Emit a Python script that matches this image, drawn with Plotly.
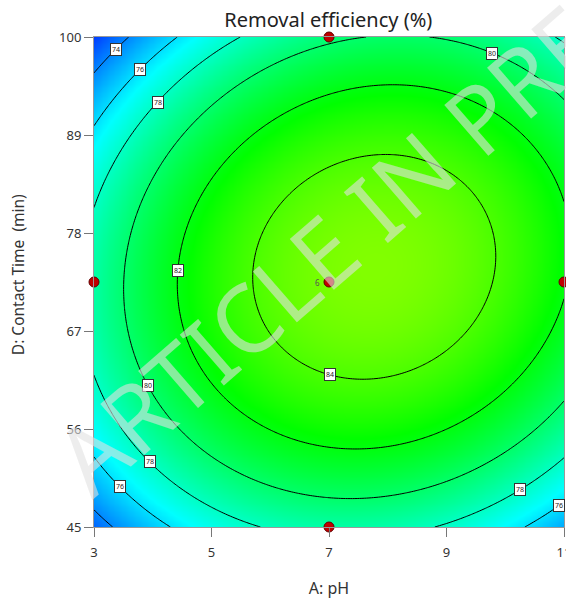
import numpy as np
import plotly.graph_objects as go

# ---- data ----
# quadratic response-surface model:
# R = M - a*(pH-x0)^2 - c*(t-y0)^2 + b*(pH-x0)*(t-y0)
model_max = 85.23
model_x0 = 7.77
model_y0 = 74.2
coef_a = 0.29
coef_c = 0.0078
coef_b = 0.009

ph_range = [3, 11]
time_range = [45, 100]
x_ticks = [3, 5, 7, 9, 11]
y_ticks = [45, 56, 67, 78, 89, 100]
levels = [74, 76, 78, 80, 82, 84]

design_ph = [7, 3, 7, 11, 7]
design_time = [100, 72.5, 72.5, 72.5, 45]
center_reps = "6"

# contour labels: (level, fixed value, fixed axis, root side)
label_specs = [
    (74, 98.6, "y", "low"), (76, 96.4, "y", "low"), (78, 92.7, "y", "low"),
    (80, 98.2, "y", "high"), (82, 73.8, "y", "low"), (84, 7.02, "x", "low"),
    (80, 60.9, "y", "low"), (78, 52.3, "y", "low"), (76, 49.5, "y", "low"),
    (74, 47.1, "y", "low"), (78, 49.2, "y", "high"), (76, 47.4, "y", "high"),
]


def model(x, y):
    dx = x - model_x0
    dy = y - model_y0
    return model_max - coef_a * dx ** 2 - coef_c * dy ** 2 + coef_b * dx * dy


def solve_label(level, fixed, axis, side):
    if axis == "y":
        dy = fixed - model_y0
        A = coef_a
        B = -coef_b * dy
        C = coef_c * dy ** 2 + level - model_max
        disc = np.sqrt(B * B - 4 * A * C)
        r = (-B - disc) / (2 * A) if side == "low" else (-B + disc) / (2 * A)
        return model_x0 + r, fixed
    dx = fixed - model_x0
    A = coef_c
    B = -coef_b * dx
    C = coef_a * dx ** 2 + level - model_max
    disc = np.sqrt(B * B - 4 * A * C)
    r = (-B - disc) / (2 * A) if side == "low" else (-B + disc) / (2 * A)
    return fixed, model_y0 + r


xs = np.linspace(ph_range[0], ph_range[1], 201)
ys = np.linspace(time_range[0], time_range[1], 201)
X, Y = np.meshgrid(xs, ys)
Z = model(X, Y)

zmin, zmax = 71.0, 93.7
colorscale = [[0.0, "rgb(0,0,255)"], [0.25, "rgb(0,255,255)"],
              [0.5, "rgb(0,255,0)"], [0.75, "rgb(255,255,0)"],
              [1.0, "rgb(255,0,0)"]]

fig = go.Figure()
fig.add_trace(go.Heatmap(
    x=xs, y=ys, z=Z, zmin=zmin, zmax=zmax, colorscale=colorscale,
    showscale=False, zsmooth="best", hoverinfo="skip"))
fig.add_trace(go.Contour(
    x=xs, y=ys, z=Z, showscale=False,
    contours=dict(coloring="none", start=levels[0], end=levels[-1],
                  size=levels[1] - levels[0], showlabels=False),
    line=dict(color="black", width=1), hoverinfo="skip"))

fig.add_trace(go.Scatter(
    x=design_ph, y=design_time, mode="markers", cliponaxis=False,
    marker=dict(size=10, color="#c00000", line=dict(color="#600000", width=1)),
    hoverinfo="skip"))

annotations = []
for lvl, fixed, axis, side in label_specs:
    lx, ly = solve_label(lvl, fixed, axis, side)
    annotations.append(dict(
        x=lx, y=ly, xref="x", yref="y", text=str(lvl), showarrow=False,
        font=dict(size=7, color="#222", family="Noto Sans"),
        bgcolor="white", bordercolor="#333", borderwidth=1, borderpad=1))

annotations.append(dict(
    x=design_ph[2], y=design_time[2], xref="x", yref="y", text=center_reps,
    showarrow=False, xshift=-12, font=dict(size=8, color="#555", family="Noto Sans")))

annotations.append(dict(
    x=0.577, y=0.637, xref="paper", yref="paper", text="ARTICLE IN PRESS",
    showarrow=False, textangle=-41,
    font=dict(size=94, color="rgba(225,225,225,0.6)", family="Noto Sans")))

annotations.append(dict(
    x=-0.1617, y=0.514, xref="paper", yref="paper",
    text="D: Contact Time\u00a0 (min)", showarrow=False, textangle=-90,
    xanchor="center", yanchor="middle",
    font=dict(size=15.5, color="#333", family="Noto Sans")))

fig.update_layout(
    width=566, height=599,
    margin=dict(l=94, r=2, t=37, b=72),
    paper_bgcolor="white", plot_bgcolor="white",
    showlegend=False,
    title=dict(text="Removal efficiency (%)", x=0.58, xanchor="center",
               y=0.966, yanchor="middle",
               font=dict(size=20, color="#222", family="Noto Sans")),
    font=dict(family="Noto Sans", color="#333"),
    annotations=annotations,
)
fig.update_xaxes(
    range=ph_range, tickvals=x_ticks, ticktext=[str(v) for v in x_ticks],
    ticks="outside", ticklen=9, tickcolor="#777", tickfont=dict(size=13, color="#333"),
    ticklabeloverflow="allow", ticklabelstandoff=4, automargin=False,
    showline=True, linecolor="#999", mirror=True, showgrid=False, zeroline=False,
    title=dict(text="A: pH", font=dict(size=16, color="#333"), standoff=24))
fig.update_yaxes(
    range=time_range, tickvals=y_ticks, ticktext=[str(v) for v in y_ticks],
    ticks="outside", ticklen=9, tickcolor="#777", tickfont=dict(size=13, color="#333"),
    automargin=False,
    showline=True, linecolor="#999", mirror=True, showgrid=False, zeroline=False)

fig.write_html("out.html")
